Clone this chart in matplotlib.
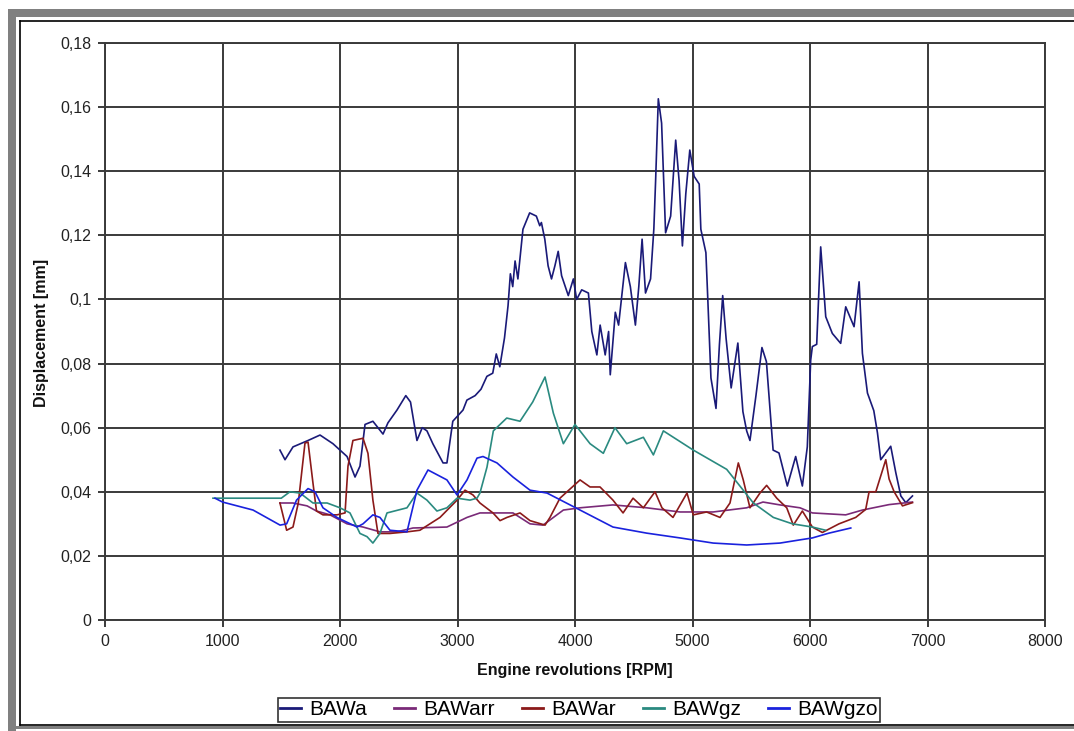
import matplotlib
matplotlib.use("Agg")
import matplotlib.pyplot as plt
from matplotlib.patches import Rectangle
from matplotlib.lines import Line2D

plt.rcParams['font.family'] = ['Liberation Sans', 'DejaVu Sans']

# --- données ---
rpm_a = [1489, 1532, 1600, 1728, 1830, 1940, 2060, 2128, 2170, 2213, 2280, 2366, 2408, 2485,
         2560, 2600, 2655, 2700, 2740, 2790, 2877, 2910, 2960, 3047, 3080, 3150, 3200, 3250,
         3300, 3330, 3360, 3400, 3430, 3450, 3470, 3490, 3514, 3557, 3614, 3671, 3700, 3714,
         3743, 3771, 3800, 3829, 3857, 3886, 3943, 3986, 4014, 4057, 4114, 4143, 4186, 4214,
         4257, 4286, 4300, 4343, 4371, 4429, 4471, 4514, 4543, 4571, 4600, 4643, 4671, 4686,
         4709, 4737, 4771, 4814, 4857, 4886, 4914, 4943, 4977, 5014, 5057, 5071, 5114, 5129,
         5157, 5200, 5229, 5257, 5286, 5329, 5386, 5429, 5461, 5489, 5540, 5591, 5629, 5686,
         5736, 5807, 5878, 5935, 5977, 6006, 6020, 6057, 6091, 6134, 6190, 6261, 6304, 6375,
         6418, 6446, 6489, 6543, 6574, 6602, 6687, 6730, 6773, 6815, 6872]
val_a = [0.053, 0.050, 0.054, 0.056, 0.0577, 0.055, 0.051, 0.0446, 0.048, 0.061, 0.062, 0.058,
         0.0615, 0.0655, 0.070, 0.068, 0.056, 0.060, 0.059, 0.055, 0.049, 0.049, 0.062, 0.0655,
         0.0686, 0.070, 0.072, 0.076, 0.077, 0.083, 0.079, 0.088, 0.098, 0.108, 0.104, 0.112,
         0.1064, 0.1219, 0.127, 0.126, 0.123, 0.124, 0.1188, 0.1105, 0.1064, 0.1105, 0.115,
         0.1074, 0.1012, 0.1064, 0.100, 0.103, 0.102, 0.090, 0.0827, 0.092, 0.0827, 0.090,
         0.0765, 0.096, 0.092, 0.1115, 0.104, 0.092, 0.104, 0.1188, 0.102, 0.1064, 0.122,
         0.137, 0.1626, 0.155, 0.1208, 0.126, 0.1497, 0.137, 0.1167, 0.133, 0.1466, 0.1384,
         0.136, 0.1219, 0.1146, 0.1012, 0.0755, 0.066, 0.0858, 0.1012, 0.0878, 0.0724, 0.0864,
         0.065, 0.059, 0.056, 0.070, 0.085, 0.0806, 0.053, 0.0521, 0.0418, 0.051, 0.0418,
         0.054, 0.0811, 0.0853, 0.086, 0.1164, 0.0946, 0.0894, 0.0863, 0.0977, 0.0915, 0.1055,
         0.0832, 0.0708, 0.0653, 0.0584, 0.050, 0.0542, 0.046, 0.0387, 0.0366, 0.0387]

rpm_arr = [1489, 1600, 1720, 1800, 1915, 2060, 2196, 2340, 2485, 2621, 2910, 3081, 3191, 3472,
           3617, 3728, 3901, 4043, 4323, 4610, 4894, 5176, 5461, 5600, 5745, 5915, 6020, 6304,
           6446, 6673, 6872]
val_arr = [0.0365, 0.0365, 0.0356, 0.034, 0.0328, 0.030, 0.029, 0.0275, 0.0275, 0.0287, 0.029,
           0.032, 0.0334, 0.0334, 0.030, 0.0296, 0.0343, 0.035, 0.0359, 0.035, 0.0337, 0.0337,
           0.035, 0.0368, 0.0359, 0.035, 0.0334, 0.0328, 0.0343, 0.036, 0.0368]

rpm_ar = [1489, 1546, 1600, 1645, 1702, 1728, 1770, 1800, 1855, 1974, 2043, 2068, 2110, 2196,
          2238, 2280, 2323, 2425, 2570, 2680, 2851, 2996, 3064, 3132, 3191, 3302, 3362, 3421,
          3532, 3617, 3745, 3787, 3872, 4043, 4128, 4213, 4323, 4409, 4494, 4582, 4681, 4740,
          4834, 4953, 5007, 5120, 5234, 5319, 5390, 5432, 5489, 5574, 5631, 5717, 5802, 5858,
          5935, 6020, 6105, 6247, 6389, 6474, 6503, 6560, 6645, 6673, 6716, 6787, 6872]
val_ar = [0.0365, 0.028, 0.029, 0.0365, 0.0552, 0.0555, 0.0427, 0.034, 0.0328, 0.0328, 0.0334,
          0.048, 0.056, 0.0567, 0.052, 0.0374, 0.027, 0.027, 0.0275, 0.028, 0.032, 0.0374,
          0.0405, 0.039, 0.0365, 0.0334, 0.031, 0.032, 0.0334, 0.031, 0.0296, 0.032, 0.038,
          0.0437, 0.0415, 0.0415, 0.0374, 0.0334, 0.038, 0.035, 0.040, 0.035, 0.032, 0.0396,
          0.0328, 0.0337, 0.032, 0.0365, 0.049, 0.0437, 0.035, 0.0396, 0.042, 0.038, 0.035,
          0.0296, 0.034, 0.029, 0.0273, 0.030, 0.032, 0.0345, 0.040, 0.040, 0.050, 0.044,
          0.040, 0.0356, 0.0366]

rpm_gz = [919, 1200, 1500, 1574, 1660, 1770, 1890, 2000, 2085, 2170, 2230, 2280, 2340, 2400,
          2570, 2655, 2740, 2825, 2910, 2996, 3106, 3166, 3191, 3251, 3305, 3419, 3532, 3640,
          3745, 3816, 3901, 4000, 4128, 4241, 4340, 4440, 4582, 4667, 4752, 5007, 5291, 5518,
          5688, 5850, 6020, 6133]
val_gz = [0.038, 0.038, 0.038, 0.040, 0.0396, 0.0365, 0.0365, 0.035, 0.0334, 0.027, 0.026,
          0.024, 0.027, 0.0334, 0.035, 0.0396, 0.0374, 0.034, 0.035, 0.038, 0.0374, 0.038,
          0.0396, 0.0477, 0.059, 0.063, 0.062, 0.068, 0.0758, 0.0645, 0.055, 0.061, 0.055,
          0.052, 0.060, 0.055, 0.057, 0.0515, 0.059, 0.053, 0.047, 0.0365, 0.032, 0.030,
          0.029, 0.028]

rpm_gzo = [936, 1000, 1260, 1490, 1546, 1630, 1728, 1787, 1855, 1974, 2145, 2196, 2280, 2340,
           2425, 2570, 2655, 2749, 2910, 2996, 3081, 3166, 3217, 3336, 3472, 3617, 3762, 4043,
           4323, 4610, 4894, 5176, 5461, 5745, 5915, 6020, 6162, 6347]
val_gzo = [0.038, 0.0368, 0.0343, 0.0296, 0.030, 0.0374, 0.041, 0.040, 0.035, 0.032, 0.029,
           0.030, 0.0328, 0.032, 0.028, 0.0275, 0.0405, 0.0468, 0.0437, 0.039, 0.0437, 0.0505,
           0.051, 0.049, 0.0446, 0.0405, 0.0396, 0.0343, 0.029, 0.0271, 0.0256, 0.024, 0.0234,
           0.024, 0.025, 0.0256, 0.0271, 0.0287]

x_ticks = [0, 1000, 2000, 3000, 4000, 5000, 6000, 7000, 8000]
y_ticks = [0, 0.02, 0.04, 0.06, 0.08, 0.10, 0.12, 0.14, 0.16, 0.18]
y_labels = ["0", "0,02", "0,04", "0,06", "0,08", "0,1", "0,12", "0,14", "0,16", "0,18"]

W, H = 1074, 731
fig = plt.figure(figsize=(W / 100, H / 100), dpi=100)
fig.patch.set_facecolor("white")

# cadre gris + bordure noire
gris = "#808080"
fig.add_artist(Rectangle((8 / W, 1 - 17 / H), (W - 8) / W, 8 / H, transform=fig.transFigure,
                         facecolor=gris, edgecolor="none"))
fig.add_artist(Rectangle((8 / W, 0), 8 / W, 1 - 9 / H, transform=fig.transFigure,
                         facecolor=gris, edgecolor="none"))
fig.add_artist(Rectangle((16 / W, 1 - 729 / H), (W - 16) / W, 3 / H, transform=fig.transFigure,
                         facecolor=gris, edgecolor="none"))
for xs, ys in [([19.5, W], [20.5, 20.5]), ([19.5, 19.5], [20.5, 725]), ([19.5, W], [725, 725])]:
    fig.add_artist(Line2D([x / W for x in xs], [1 - y / H for y in ys], transform=fig.transFigure,
                          color="black", linewidth=1.2))

ax = fig.add_axes([105 / W, 1 - 620 / H, 940 / W, 577 / H])

series = [
    (rpm_a, val_a, "BAWa", "#1a1a78"),
    (rpm_arr, val_arr, "BAWarr", "#7a2a78"),
    (rpm_ar, val_ar, "BAWar", "#8b1a1a"),
    (rpm_gz, val_gz, "BAWgz", "#2a8a80"),
    (rpm_gzo, val_gzo, "BAWgzo", "#1a22dd"),
]
for x, y, nom, c in series:
    ax.plot(x, y, color=c, linewidth=1.2, label=nom)

ax.set_xlim(0, 8000)
ax.set_ylim(0, 0.18)
ax.set_xticks(x_ticks)
ax.set_yticks(y_ticks)
ax.set_yticklabels(y_labels)
ax.grid(True, color="#3a3a3a", linewidth=1.4)
ax.set_axisbelow(True)
for s in ax.spines.values():
    s.set_color("#3a3a3a")
    s.set_linewidth(1.4)
ax.tick_params(direction="out", length=5, width=1.4, color="#3a3a3a",
               labelsize=11.5, labelcolor="#222222", pad=5)

fig.text(42 / W, 1 - 333 / H, "Displacement [mm]", rotation=90, ha="center", va="center",
         fontsize=11.5, fontweight="bold", color="#111111")
fig.text(575 / W, 1 - 671 / H, "Engine revolutions [RPM]", ha="center", va="center",
         fontsize=11.5, fontweight="bold", color="#111111")

leg = fig.legend(loc="center", bbox_to_anchor=(579 / W, 1 - 709.5 / H), ncol=5, fontsize=15,
                 frameon=True, fancybox=False, edgecolor="black", handlelength=1.0,
                 handletextpad=0.4, columnspacing=1.3, borderpad=0.12, borderaxespad=0)
leg.get_frame().set_linewidth(1.2)
for l in leg.get_lines():
    l.set_linewidth(2)

fig.savefig("out.png", dpi=100)
